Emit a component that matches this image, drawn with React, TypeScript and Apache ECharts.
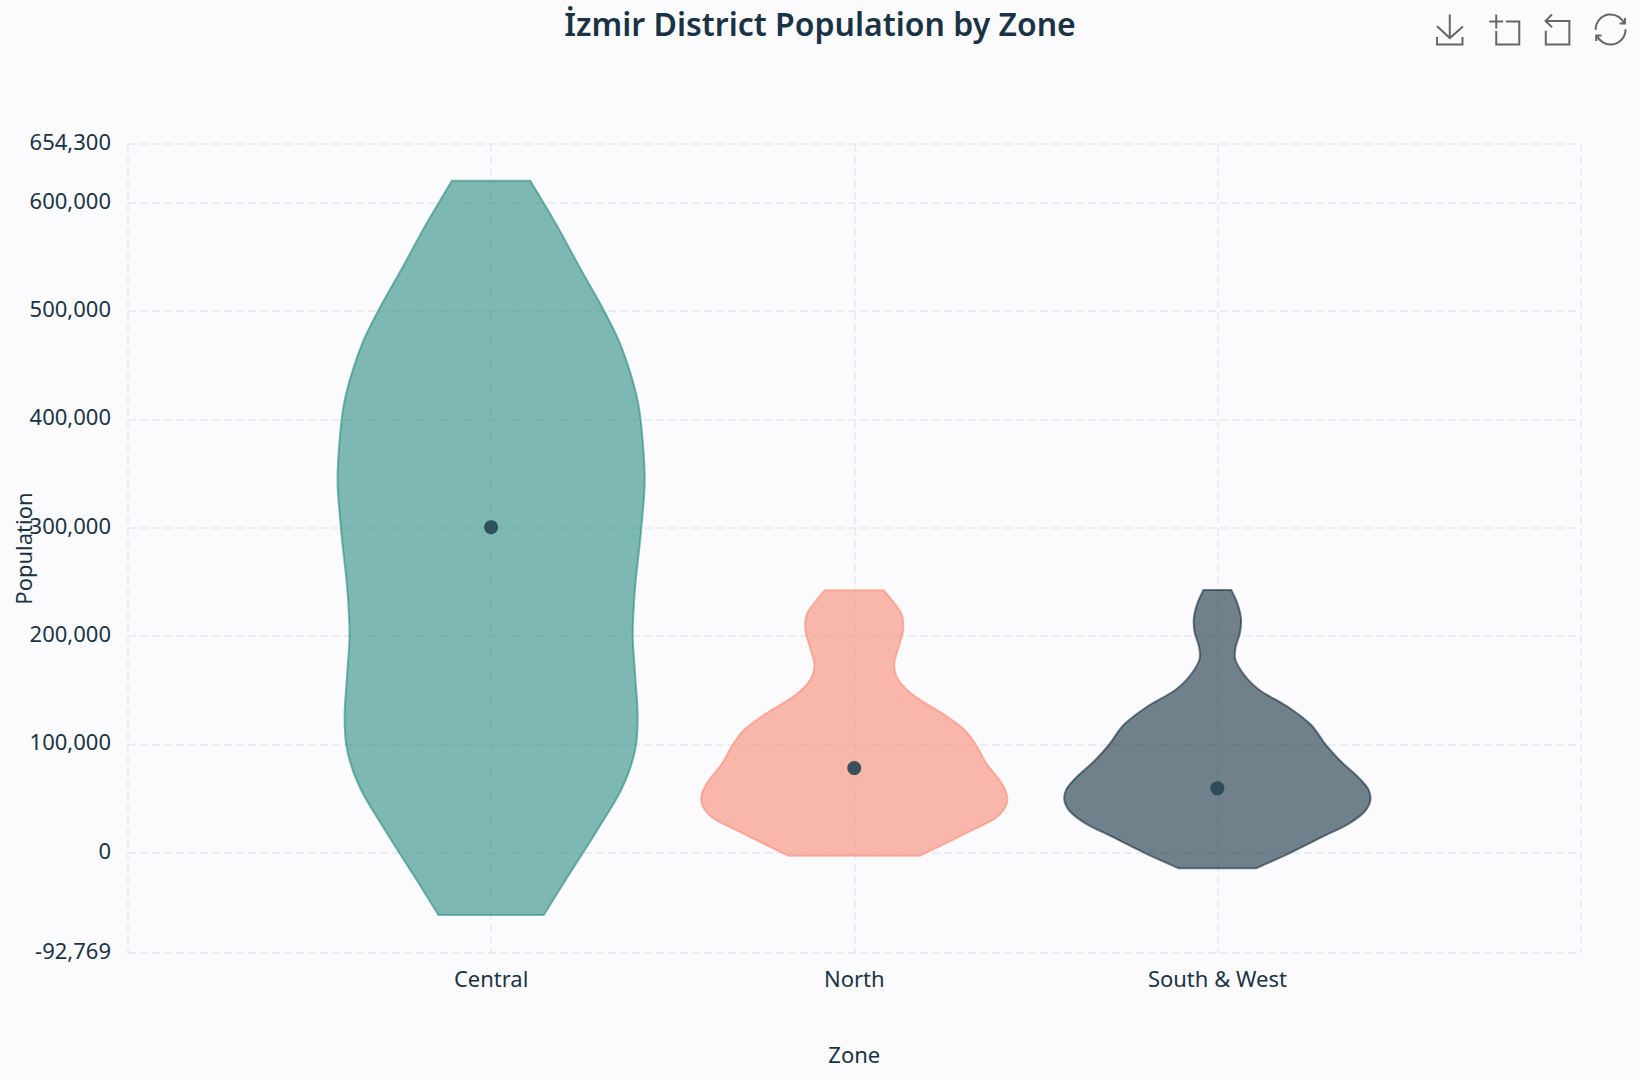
import { useEffect, useRef } from "react";
import * as echarts from "echarts";

const zones = ["Central", "North", "South & West"];
const medians = [300500, 78000, 59300];
const colors = ["#2A8C81", "#F98A76", "#16303F"];

// population level -> half width of the violin, in x axis units
const centralLevels = [620400, 577900, 537900, 500300, 473200, 445500, 414800, 377900, 343900, 300900, 236200, 200900, 162300, 122400, 99300, 73300, 57700, 23800, -28400, -57700];
const centralWidths = [0.108, 0.183, 0.248, 0.311, 0.351, 0.381, 0.405, 0.418, 0.423, 0.414, 0.3945, 0.39, 0.397, 0.4035, 0.399, 0.378, 0.358, 0.298, 0.1995, 0.145];
const northLevels = [242200, 230500, 221300, 206500, 190400, 171900, 159600, 144200, 128800, 113400, 99500, 82600, 63900, 57700, 46900, 40200, 33100, 17700, -3000];
const northWidths = [0.081, 0.11, 0.129, 0.135, 0.123, 0.11, 0.121, 0.167, 0.241, 0.303, 0.335, 0.363, 0.406, 0.416, 0.421, 0.413, 0.394, 0.307, 0.181];
const southLevels = [242400, 230100, 214700, 202400, 190000, 179300, 168500, 150100, 134600, 119300, 99300, 85400, 68500, 57700, 48500, 37700, 27000, 14600, -700, -14600];
const southWidths = [0.0385, 0.055, 0.0652, 0.0619, 0.0504, 0.0487, 0.0641, 0.1157, 0.1936, 0.2534, 0.299, 0.336, 0.391, 0.4167, 0.4214, 0.405, 0.3635, 0.29, 0.198, 0.1066];

const levels = [centralLevels, northLevels, southLevels];
const widths = [centralWidths, northWidths, southWidths];

const textColor = "#1A3344";
const gridColor = "#EAEDF2";
const font = "Noto Sans";

// hermite curve x(y) through the points, as bezier segments
const spline = (pts: number[][]) => {
  const n = pts.length;
  const h = pts.slice(1).map((p, i) => p[1] - pts[i][1]);
  const s = pts.slice(1).map((p, i) => (p[0] - pts[i][0]) / h[i]);
  const m = pts.map((_, i) => {
    if (i === 0) return s[0];
    if (i === n - 1) return s[n - 2];
    return (h[i - 1] * s[i] + h[i] * s[i - 1]) / (h[i - 1] + h[i]);
  });
  let d = "";
  for (let i = 0; i < n - 1; i++) {
    const c1x = pts[i][0] + (m[i] * h[i]) / 3;
    const c1y = pts[i][1] + h[i] / 3;
    const c2x = pts[i + 1][0] - (m[i + 1] * h[i]) / 3;
    const c2y = pts[i + 1][1] - h[i] / 3;
    d += ` C${c1x} ${c1y} ${c2x} ${c2y} ${pts[i + 1][0]} ${pts[i + 1][1]}`;
  }
  return d;
};

const renderViolin = (params: any, api: any) => {
  const i = params.dataIndex;
  const right = levels[i].map((v, k) => api.coord([i + widths[i][k], v]));
  const left = levels[i].map((v, k) => api.coord([i - widths[i][k], v])).reverse();
  const pathData = `M${right[0][0]} ${right[0][1]}${spline(right)} L${left[0][0]} ${left[0][1]}${spline(left)} Z`;
  return {
    type: "path",
    shape: { pathData },
    style: {
      fill: colors[i],
      stroke: colors[i],
      lineWidth: 2,
      fillOpacity: 0.6,
      strokeOpacity: 0.6,
    },
  };
};

export default function App() {
  const chartRef = useRef<HTMLDivElement>(null);

  useEffect(() => {
    if (!chartRef.current) return;
    const chart = echarts.init(chartRef.current, null, { renderer: "svg" });

    const option: any = {
      animation: false,
      backgroundColor: "#FBFBFD",
      textStyle: { fontFamily: font },
      title: {
        text: "İzmir District Population by Zone",
        left: "center",
        top: 2,
        textStyle: { fontFamily: font, fontSize: 32, fontWeight: 600, color: textColor },
      },
      toolbox: {
        right: -3,
        top: -3,
        itemSize: 30,
        itemGap: 21.3,
        iconStyle: { borderColor: "#666", borderWidth: 2 },
        feature: {
          saveAsImage: {},
          dataZoom: {},
          restore: {},
        },
      },
      grid: { left: 128, width: 1452.5, top: 144, height: 809, outerBoundsMode: "none" },
      xAxis: {
        type: "value",
        min: -1,
        max: 3,
        interval: 1,
        name: "Zone",
        nameLocation: "middle",
        nameGap: 90,
        nameTextStyle: { fontSize: 22, color: textColor },
        axisLine: { show: false },
        axisTick: { show: false },
        axisLabel: {
          fontSize: 22,
          color: textColor,
          margin: 14,
          formatter: (v: number) => zones[v] ?? "",
        },
        splitLine: { show: true, lineStyle: { color: gridColor, type: "dashed", width: 2 } },
      },
      yAxis: {
        type: "value",
        min: -92769,
        max: 654300,
        name: "Population",
        nameLocation: "middle",
        nameGap: 94,
        nameMoveOverlap: false,
        nameTextStyle: { fontSize: 22, color: textColor },
        axisLine: { show: false },
        axisTick: { show: false },
        axisLabel: {
          fontSize: 22,
          color: textColor,
          margin: 17,
          verticalAlign: "bottom",
          lineHeight: 6,
          formatter: (v: number) => v.toLocaleString("en-US"),
        },
        splitLine: { show: true, lineStyle: { color: gridColor, type: "dashed", width: 2 } },
      },
      series: [
        {
          type: "custom",
          renderItem: renderViolin,
          encode: { x: 0, y: 1 },
          data: zones.map((_, i) => [i, medians[i]]),
          z: 2,
        },
        {
          type: "scatter",
          symbolSize: 14,
          itemStyle: { color: "#264653", opacity: 0.9 },
          data: zones.map((_, i) => [i, medians[i]]),
          z: 3,
        },
      ],
    };

    chart.setOption(option);
    return () => chart.dispose();
  }, []);

  return <div ref={chartRef} style={{ position: "fixed", left: 0, top: 0, width: 1640, height: 1080 }} />;
}
